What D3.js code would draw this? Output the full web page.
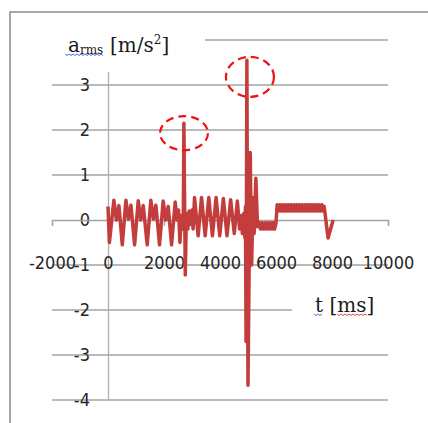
<!DOCTYPE html>
<html>
<head>
<meta charset="utf-8">
<script src="https://cdn.jsdelivr.net/npm/d3@7"></script>
<style>
  body { margin: 0; background: #fff; }
  svg { display: block; }
  .tick text { font-family: "Liberation Sans Narrow", "DejaVu Sans Condensed", sans-serif; font-size: 18px; fill: #262626; }
  .lbl { font-family: "DejaVu Serif", "Liberation Serif", serif; fill: #1a1a1a; }
</style>
</head>
<body>
<div id="chart"></div>
<script>
const timeMs = [
  0, 50, 210, 300, 390, 510,
  640, 730, 820, 950,
  1080, 1170, 1260, 1400,
  1530, 1620, 1710, 1840,
  1970, 2060, 2150, 2270,
  2400, 2470, 2520, 2570, 2620, 2660, 2690,
  2710, 2760, 2800, 2850, 2900, 2950, 3000, 3040,
  3090, 3220, 3340, 3470, 3600, 3730, 3860, 3990, 4120, 4250, 4380, 4510, 4620,
  4700, 4750, 4800, 4850, 4890, 4910,
  4930, 4960, 5000, 5080, 5130, 5180, 5220, 5280, 5340,
  5400, 5450, 5500, 5550, 5600, 5650, 5700, 5750, 5800, 5850, 5900, 5950, 6000,
  6040, 6090, 6140, 6190, 6240, 6290, 6340, 6390, 6440, 6490, 6540, 6590, 6640, 6690,
  6740, 6790, 6840, 6890, 6940, 6990, 7040, 7090, 7140, 7190, 7240, 7290, 7340, 7390,
  7440, 7490, 7540, 7590, 7640, 7690,
  7720, 7860, 8040
];
const accel = [
  0.3, -0.5, 0.44, 0.0, 0.32, -0.55,
  0.44, 0.02, 0.33, -0.55,
  0.43, 0.0, 0.32, -0.55,
  0.44, 0.02, 0.33, -0.55,
  0.42, 0.0, 0.3, -0.55,
  0.4, 0.0, 0.22, -0.5, 0.1, -0.2, 0.05,
  2.15, -1.22, 0.15, -0.2, 0.2, -0.1, 0.22, -0.2,
  0.5, -0.35, 0.5, -0.35, 0.5, -0.35, 0.5, -0.35, 0.48, -0.35, 0.45, -0.3, 0.42,
  -0.2, 0.1, -0.3, 0.15, -0.4, 0.3,
  -2.7, 3.55, -3.67, 1.5, -1.0, 0.5, -0.3, 0.93, -0.15,
  -0.06, -0.2, -0.06, -0.2, -0.06, -0.2, -0.06, -0.2, -0.06, -0.2, -0.06, -0.2, -0.06,
  0.34, 0.2, 0.34, 0.2, 0.34, 0.2, 0.34, 0.2, 0.34, 0.2, 0.34, 0.2, 0.34, 0.2,
  0.34, 0.2, 0.34, 0.2, 0.34, 0.2, 0.34, 0.2, 0.34, 0.2, 0.34, 0.2, 0.34, 0.2,
  0.34, 0.2, 0.34, 0.2, 0.34, 0.2,
  0.3, -0.4, 0.0
];

const xTicks = [-2000, 0, 2000, 4000, 6000, 8000, 10000];
const yTicks = [-4, -3, -2, -1, 0, 1, 2, 3, 4];
// the "4" label is hidden under the title box in the original
const yLabels = [-4, -3, -2, -1, 0, 1, 2, 3];

// the two circled spikes (ellipse centre)
const markTime = [2714, 5070];
const markAccel = [1.93, 3.18];

const width = 428, height = 423;

const svg = d3.select("#chart").append("svg")
    .attr("width", width)
    .attr("height", height);

// page frame
svg.append("path")
    .attr("d", "M" + width + ",12H10V" + height)
    .attr("fill", "none")
    .attr("stroke", "#8c8c8c")
    .attr("stroke-width", 1.5);

let x = d3.scaleLinear().domain([-2000, 10000]).range([52, 388]);
let y = d3.scaleLinear().domain([-4, 4]).range([400, 40]);

// plain hyphen minus, like the original
let fmt = function(d) { return String(d); };

// horizontal gridlines
svg.append("g")
    .selectAll("line")
    .data(yTicks.filter(function(d) { return d != 0; }))
    .enter().append("line")
    .attr("x1", x(-2000))
    .attr("x2", x(10000))
    .attr("y1", function(d) { return y(d); })
    .attr("y2", function(d) { return y(d); })
    .attr("stroke", "#a3a3a3")
    .attr("stroke-width", 1.3);

// y axis sits on t = 0
let yAxis = svg.append("g")
    .attr("transform", "translate(" + x(0) + ",0)")
    .call(d3.axisLeft(y).tickValues(yLabels).tickFormat(fmt).tickSizeInner(0).tickSizeOuter(0).tickPadding(18));
yAxis.select(".domain").attr("stroke", "#b0b0b0").attr("stroke-width", 1.3);

// x axis sits on a = 0
let xAxis = svg.append("g")
    .attr("transform", "translate(0," + y(0) + ")")
    .call(d3.axisBottom(x).tickValues(xTicks).tickSize(6).tickFormat(fmt));
xAxis.select(".domain").attr("stroke", "#a3a3a3").attr("stroke-width", 1.3);
xAxis.selectAll(".tick line").attr("stroke", "#a3a3a3").attr("stroke-width", 1.3);
xAxis.selectAll(".tick text").attr("y", 36);

// signal
let line = d3.line()
    .x(function(d) { return x(d[0]); })
    .y(function(d) { return y(d[1]); });

svg.append("path")
    .datum(d3.zip(timeMs, accel))
    .attr("d", line)
    .attr("fill", "none")
    .attr("stroke", "#c43d3d")
    .attr("stroke-width", 3.5)
    .attr("stroke-linejoin", "round");

// wavy spell-check underline
function squiggle(yy, color, x0, x1) {
    let pts = [];
    for (let px = x0, k = 0; px <= x1; px += 2, k++) {
        pts.push([px, yy + (k % 2 ? 1.5 : 0)]);
    }
    svg.append("path")
        .attr("d", d3.line()(pts))
        .attr("fill", "none")
        .attr("stroke", color)
        .attr("stroke-width", 0.9);
}

// title box (white, hides the gridline behind it)
svg.append("rect")
    .attr("x", 50).attr("y", 22)
    .attr("width", 155).attr("height", 50)
    .attr("fill", "#fff");

let aRms = svg.append("text")
    .attr("class", "lbl")
    .attr("x", 68).attr("y", 52)
    .style("font-size", "20px");
aRms.append("tspan").text("a");
aRms.append("tspan").attr("dy", 2).style("font-size", "12px").text("rms");

svg.append("text")
    .attr("class", "lbl")
    .attr("x", 110).attr("y", 52)
    .style("font-size", "20px")
    .html('[m/s<tspan dy="-8" style="font-size:12px">2</tspan><tspan dy="8">]</tspan>');

let bbA = aRms.node().getBBox();
squiggle(54, "#3f5bd6", bbA.x - 3, bbA.x + bbA.width);

// axis label box
svg.append("rect")
    .attr("x", 292).attr("y", 296)
    .attr("width", 100).attr("height", 30)
    .attr("fill", "#fff");

let tLbl = svg.append("text")
    .attr("class", "lbl")
    .attr("x", 315).attr("y", 312)
    .style("font-size", "20px")
    .text("t [ms]");

let bbT = tLbl.node().getBBox();
squiggle(314, "#3f5bd6", bbT.x - 1, bbT.x + 7);
squiggle(314, "#d43a3a", bbT.x + 22, bbT.x + bbT.width - 6);

// dashed circles around the spikes
svg.append("g")
    .selectAll("ellipse")
    .data(d3.zip(markTime, markAccel))
    .enter().append("ellipse")
    .attr("cx", function(d) { return x(d[0]); })
    .attr("cy", function(d) { return y(d[1]); })
    .attr("rx", 24)
    .attr("ry", function(d, i) { return i ? 20 : 17; })
    .attr("fill", "none")
    .attr("stroke", "#f01010")
    .attr("stroke-width", 2.2)
    .attr("stroke-dasharray", "8,5");
</script>
</body>
</html>
